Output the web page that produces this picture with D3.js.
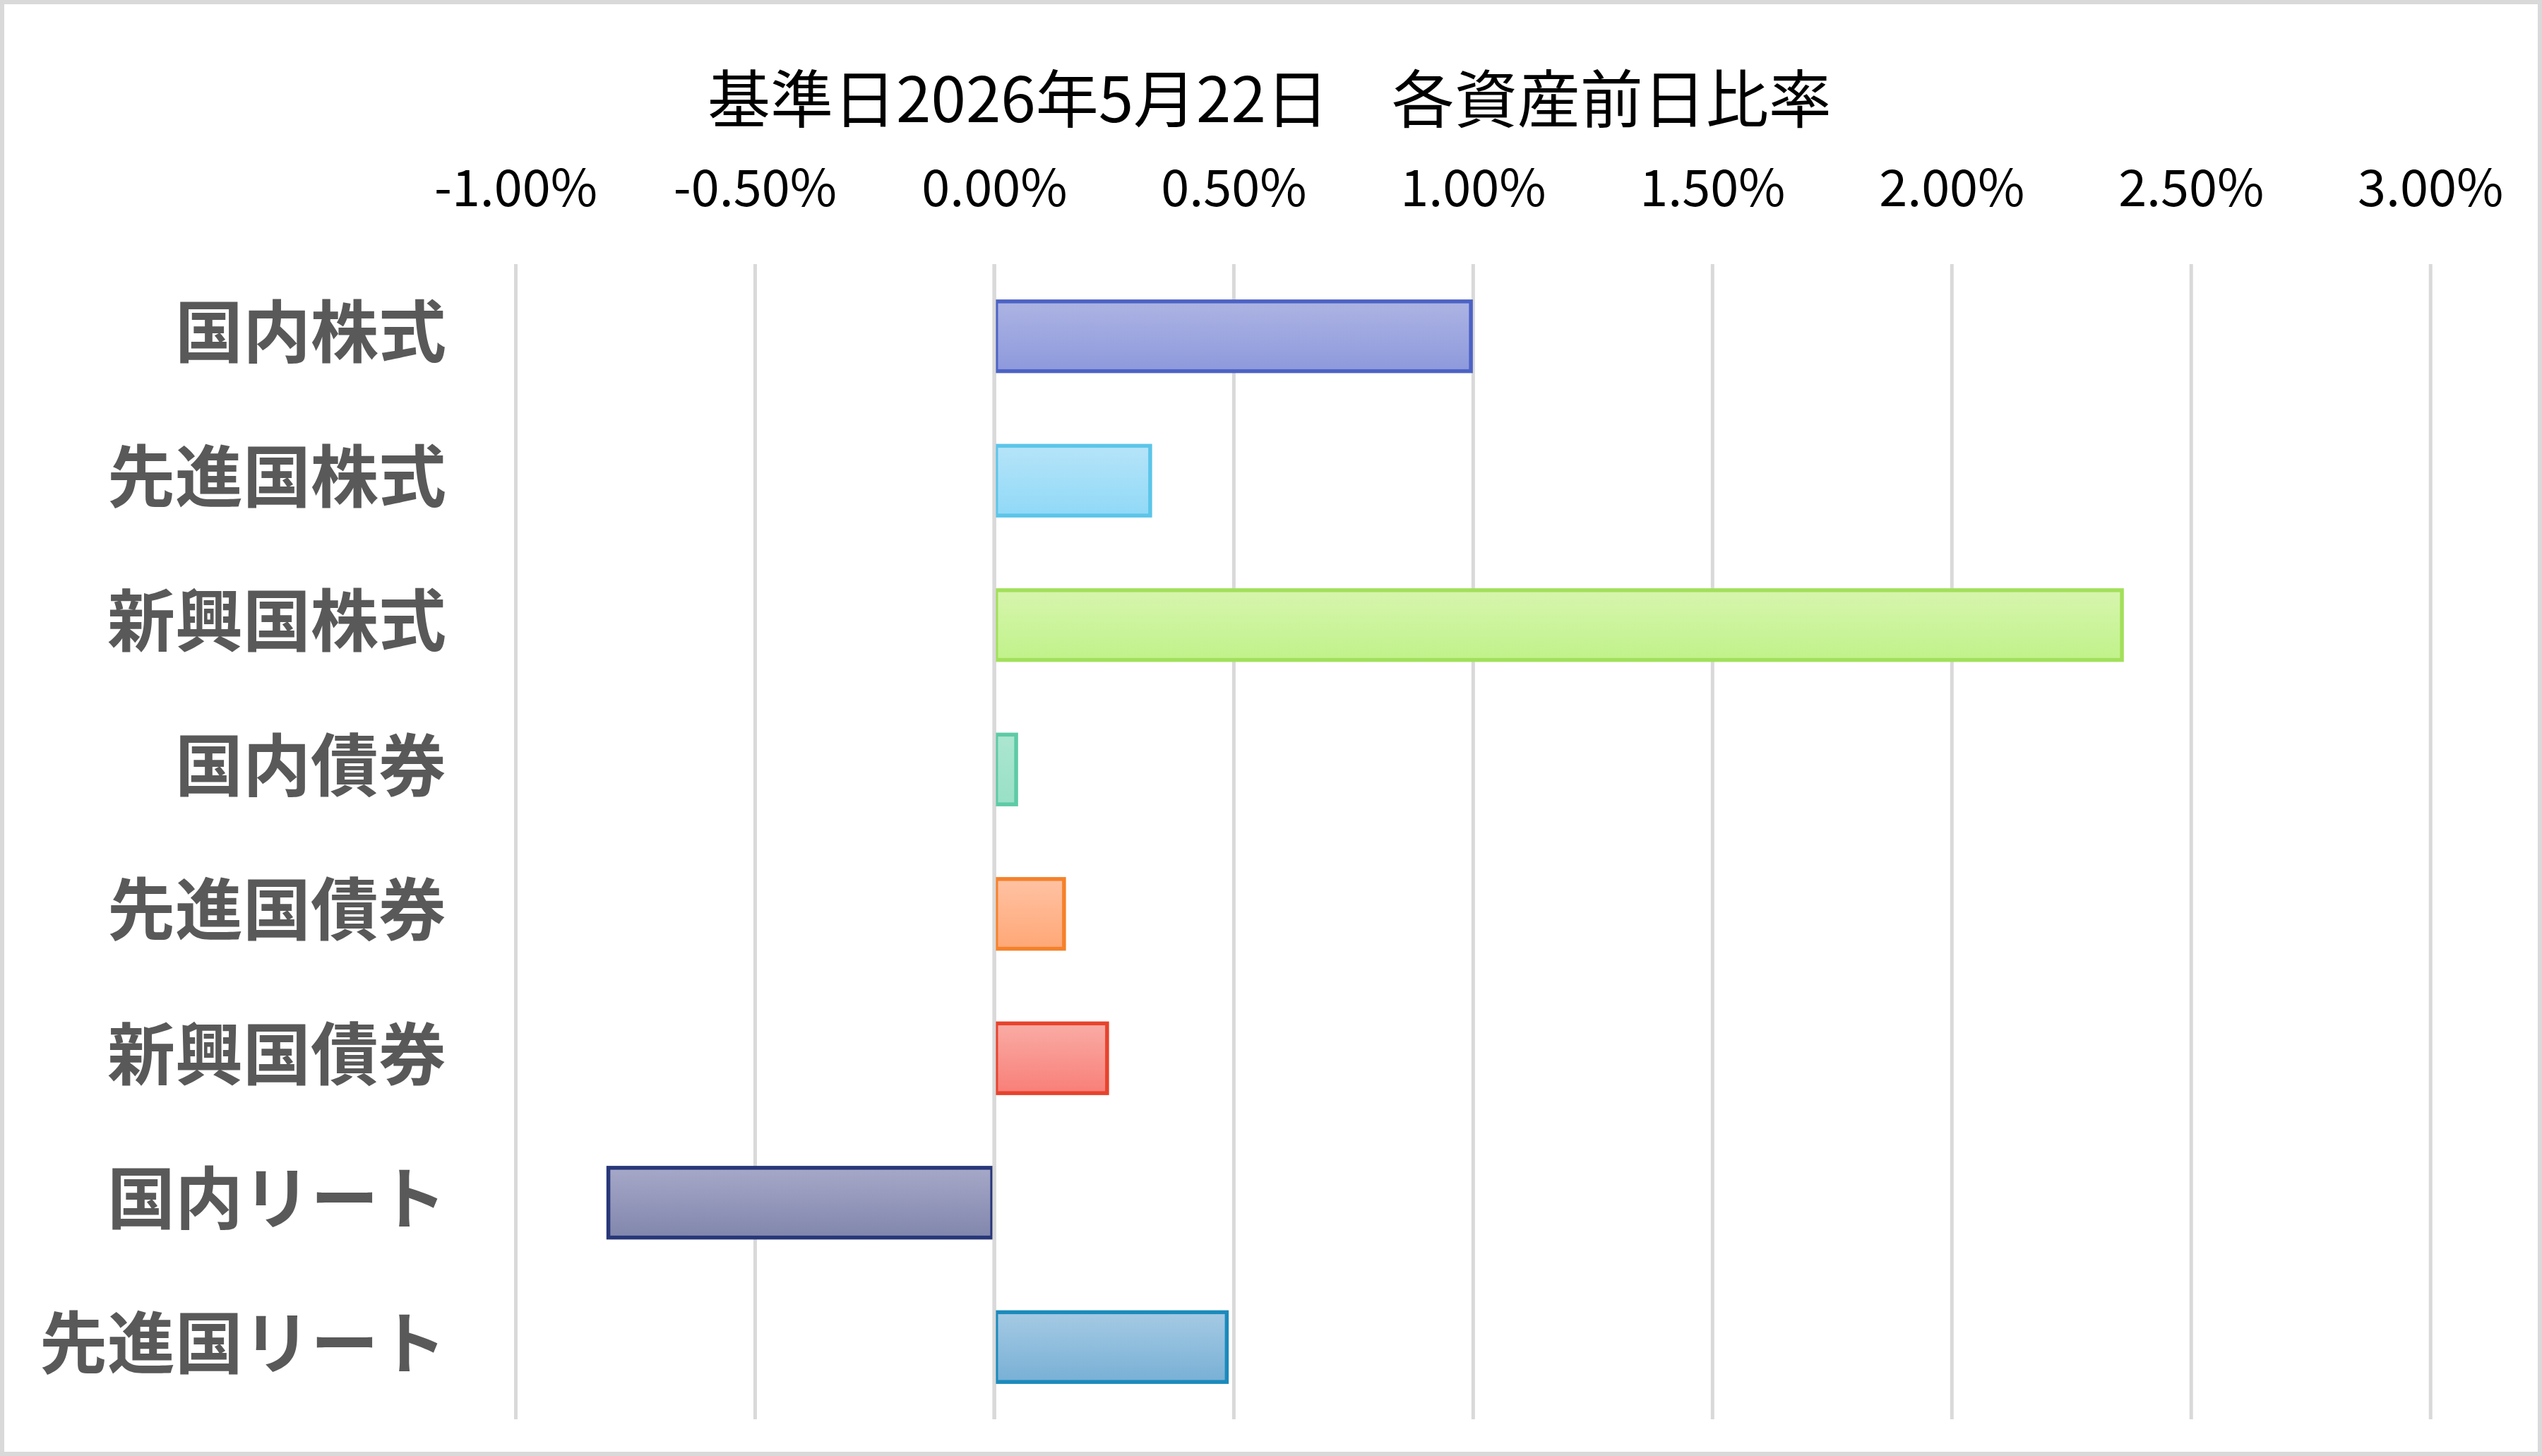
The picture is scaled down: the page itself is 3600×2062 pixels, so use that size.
<!DOCTYPE html>
<html>
<head>
<meta charset="utf-8">
<script src="https://cdn.jsdelivr.net/npm/d3@7"></script>
<style>
  html, body { margin: 0; padding: 0; background: #fff; }
  svg { display: block; }
</style>
</head>
<body>
<svg id="chart" width="3600" height="2062"></svg>
<script>
// ---- data ----
const title = "基準日2026年5月22日　各資産前日比率";
const categories = ["国内株式", "先進国株式", "新興国株式", "国内債券", "先進国債券", "新興国債券", "国内リート", "先進国リート"];
const values = [1.00, 0.33, 2.36, 0.05, 0.15, 0.24, -0.81, 0.49]; // percent
const tickValues = [-1.0, -0.5, 0.0, 0.5, 1.0, 1.5, 2.0, 2.5, 3.0];

// ---- styles ----
const fillTop    = ["#adb4e3", "#b6e4f9", "#d7f5ae", "#ace6d1", "#ffc2a3", "#f9aca5", "#a6a8c8", "#a5cae4"];
const fillBottom = ["#8d99dc", "#90d9f7", "#c0f28a", "#98e0c6", "#ffa776", "#f87f78", "#8186ac", "#78b0d5"];
const strokeCol  = ["#4c62c4", "#5cc5e9", "#a2e05a", "#5ecaa6", "#f5812a", "#e6432d", "#283779", "#1a8abb"];

const W = 3600, H = 2062;
const svg = d3.select("#chart");

// background + frame
svg.append("rect").attr("x", 0).attr("y", 0).attr("width", W).attr("height", H).attr("fill", "#fff");
svg.append("rect").attr("x", 3).attr("y", 3).attr("width", W - 6).attr("height", H - 6)
  .attr("fill", "none").attr("stroke", "#d9d9d9").attr("stroke-width", 6);

const plot = { left: 730, right: 3441.7, top: 374, bottom: 2010 };

const x = d3.scaleLinear().domain([-1, 3]).range([plot.left, plot.right]);
const y = d3.scaleBand().domain(categories).range([plot.top, plot.bottom]).paddingInner(0.49).paddingOuter(0.245);

// gradients
const defs = svg.append("defs");
categories.forEach((c, i) => {
  const g = defs.append("linearGradient").attr("id", "grad" + i)
    .attr("x1", 0).attr("y1", 0).attr("x2", 0).attr("y2", 1);
  g.append("stop").attr("offset", "0%").attr("stop-color", fillTop[i]);
  g.append("stop").attr("offset", "100%").attr("stop-color", fillBottom[i]);
});

// gridlines
const grid = d3.axisTop(x).tickValues(tickValues).tickSize(-(plot.bottom - plot.top)).tickFormat("");
const gridG = svg.append("g").attr("transform", `translate(0,${plot.top})`).call(grid);
gridG.select(".domain").remove();
gridG.selectAll(".tick line").attr("stroke", "#d9d9d9").attr("stroke-width", 5);

// tick labels
const fmt = v => v.toFixed(2) + "%";
const axisT = d3.axisTop(x).tickValues(tickValues).tickSize(0).tickFormat(fmt);
const axisG = svg.append("g").attr("transform", `translate(0,292)`).call(axisT);
axisG.select(".domain").remove();
axisG.selectAll(".tick text")
  .attr("y", 0).attr("dy", 0)
  .attr("font-family", "'Noto Sans CJK JP', 'Noto Sans', sans-serif")
  .attr("font-size", 72)
  .attr("fill", "#000")
  .attr("text-anchor", "middle");

// bars
const sw = 5.5;
svg.append("g").selectAll("rect.bar").data(values).join("rect")
  .attr("class", "bar")
  .attr("x", (d) => Math.min(x(0), x(d)) + sw / 2)
  .attr("y", (d, i) => y(categories[i]) + sw / 2)
  .attr("width", (d) => Math.max(1, Math.abs(x(d) - x(0)) - sw))
  .attr("height", y.bandwidth() - sw)
  .attr("fill", (d, i) => `url(#grad${i})`)
  .attr("stroke", (d, i) => strokeCol[i])
  .attr("stroke-width", sw);

// category axis line at zero (drawn over bars)
svg.append("line")
  .attr("x1", x(0)).attr("x2", x(0))
  .attr("y1", plot.top).attr("y2", plot.bottom)
  .attr("stroke", "#d9d9d9").attr("stroke-width", 5);

// category labels
const yAxis = d3.axisLeft(y).tickSize(0).tickPadding(0);
const yG = svg.append("g").attr("transform", `translate(632,0)`).call(yAxis);
yG.select(".domain").remove();
yG.selectAll(".tick text")
  .attr("x", 0).attr("dy", 0).attr("y", 29)
  .attr("font-family", "'Noto Sans CJK JP', sans-serif")
  .attr("font-size", 96)
  .attr("font-weight", "bold")
  .attr("fill", "#595959")
  .attr("text-anchor", "end");

// title
svg.append("text")
  .attr("x", 1798).attr("y", 173)
  .attr("text-anchor", "middle")
  .attr("font-family", "'Noto Sans CJK JP', sans-serif")
  .attr("font-size", 89)
  .attr("fill", "#000")
  .text(title);
</script>
</body>
</html>
